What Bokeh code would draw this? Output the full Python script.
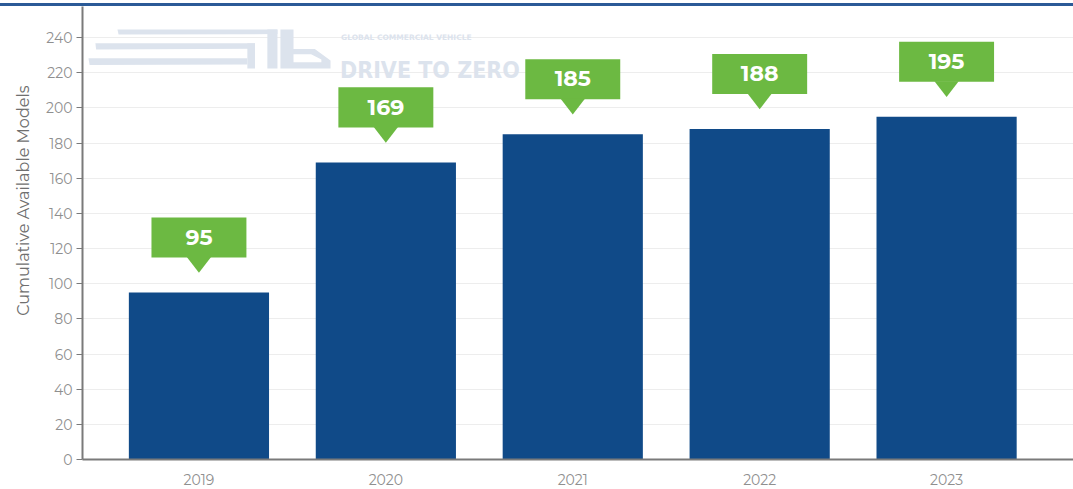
from bokeh.plotting import figure
from bokeh.models import ColumnDataSource, Range1d, FixedTicker, Div, Title
from bokeh.layouts import column
from bokeh.core.properties import value
from bokeh.embed import file_html
from bokeh.resources import INLINE

years = ["2019", "2020", "2021", "2022", "2023"]
models = [95, 169, 185, 188, 195]
y_ticks = [0, 20, 40, 60, 80, 100, 120, 140, 160, 180, 200, 220, 240]

BAR = "#104a88"
GREEN = "#6cb942"
GRAY = "#7a7a7a"
WM = "#dce3ed"
FONT = "Montserrat"

xs = list(range(len(years)))
src = ColumnDataSource(dict(
    x=xs, v=models, lab=[str(m) for m in models],
    bl=[x - 0.254 for x in xs], br=[x + 0.254 for x in xs],
    bb=[m + 19.9 for m in models], bt=[m + 42.7 for m in models],
    ty=[m + 31.5 for m in models],
))

p = figure(width=1073, height=483, output_backend="svg", toolbar_location=None,
           x_range=Range1d(-0.623, 4.679), y_range=Range1d(0, 257.7),
           min_border_left=82, min_border_right=0, min_border_top=0, min_border_bottom=30)
p.outline_line_color = None
p.background_fill_color = "white"
p.border_fill_color = "white"

# watermark (logo + text)
p.patch([-0.436, 0.42, 0.42, -0.43], [244.6, 244.6, 242.0, 241.8], color=WM, line_color=None)
p.patch([-0.554, 0.30, 0.30, -0.55], [236.8, 236.8, 233.6, 233.3], color=WM, line_color=None)
p.patch([-0.591, 0.259, 0.259, -0.585], [228.3, 228.3, 224.7, 224.4], color=WM, line_color=None)
p.quad(left=[0.259], right=[0.30], bottom=[222.4], top=[236.8], color=WM, line_color=None)
p.quad(left=[0.366], right=[0.42], bottom=[222.4], top=[244.6], color=WM, line_color=None)
p.patch([0.436, 0.506, 0.506, 0.62, 0.704, 0.704, 0.436],
        [244.6, 244.6, 233.5, 233.5, 227.0, 222.4, 222.4], color=WM, line_color=None)
p.patch([0.506, 0.60, 0.655, 0.655, 0.506], [230.5, 230.5, 227.5, 226.0, 226.0], color="white", line_color=None)
p.text(x=[0.755], y=[221.3], text=["DRIVE TO ZERO"], text_font=value("DejaVu Sans Condensed"),
       text_font_style="bold", text_font_size="23px", text_color=WM, text_baseline="alphabetic")
p.text(x=[0.76], y=[240.3], text=["GLOBAL COMMERCIAL VEHICLE"], text_font=value("DejaVu Sans"),
       text_font_style="bold", text_font_size="7.5px", text_color=WM, text_baseline="alphabetic")

p.vbar(x="x", top="v", width=0.75, source=src, color=BAR, line_color=None)

# callouts
p.quad(left="bl", right="br", bottom="bb", top="bt", source=src, color=GREEN, line_color=None)
tri_x = [[x - 0.065, x + 0.065, x] for x in xs]
tri_y = [[m + 20.2, m + 20.2, m + 11.2] for m in models]
p.patches(tri_x, tri_y, color=GREEN, line_color=None)
p.text(x="x", y="ty", text="lab", source=src, text_align="center", text_baseline="middle",
       text_color="white", text_font=value(FONT), text_font_style="bold", text_font_size="22px")

# axes
p.xaxis.ticker = FixedTicker(ticks=xs)
p.xaxis.major_label_overrides = {i: y for i, y in enumerate(years)}
p.xaxis.major_tick_line_color = None
p.xaxis.minor_tick_line_color = None
p.xaxis.axis_line_color = GRAY
p.xaxis.axis_line_width = 2
p.xaxis.major_label_text_color = "#8f8f8f"
p.xaxis.major_label_text_font = FONT
p.xaxis.major_label_text_font_size = "14px"
p.xaxis.major_label_standoff = 8

p.yaxis.ticker = FixedTicker(ticks=y_ticks)
p.yaxis.minor_tick_line_color = None
p.yaxis.axis_line_color = GRAY
p.yaxis.axis_line_width = 2
p.yaxis.major_tick_line_color = GRAY
p.yaxis.major_tick_out = 6
p.yaxis.major_tick_in = 0
p.yaxis.major_label_text_color = "#8f8f8f"
p.yaxis.major_label_text_font = FONT
p.yaxis.major_label_text_font_size = "14px"
p.yaxis.major_label_standoff = 4

p.xgrid.grid_line_color = None
p.ygrid.ticker = FixedTicker(ticks=y_ticks)
p.ygrid.grid_line_color = "#ededed"

ytitle = Title(text="Cumulative Available Models", align="right", offset=79,
               text_font=FONT, text_font_size="16px", text_font_style="normal",
               text_color="#6f6f6f", standoff=22)
p.add_layout(ytitle, "left")

bar_top = Div(text="", width=1073, height=3, margin=(3, 0, 0, 0),
              styles={"background-color": "#2b5a97", "width": "1073px", "height": "3px"})
layout = column(bar_top, p, spacing=0)

open("out.html", "w").write(file_html(layout, INLINE))
